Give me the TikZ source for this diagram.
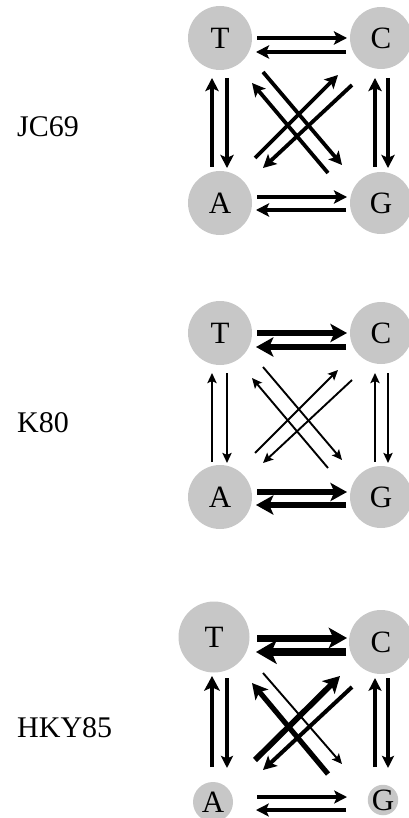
\documentclass[tikz,border=0pt]{standalone}
\usepackage{fontspec}
\setmainfont{Liberation Serif}
\usetikzlibrary{arrows.meta}
\begin{document}
\begin{tikzpicture}[x=1pt,y=-1pt,
  base/.style={circle, fill=black!22, inner sep=0pt, text=black, font=\fontsize{31}{36}\selectfont},
  arr/.style={line width=#1, -{Stealth[length={7pt 1.6}, width={5pt 2.2}, inset={1pt 0.5}]}},
  lbl/.style={anchor=base west, inner sep=0pt, font=\fontsize{30}{36}\selectfont}]
\useasboundingbox (0,0) rectangle (408,818);
% ---------- JC69 ----------
\node[lbl] (L1) at (17,137) {JC69};
\node[base, minimum size=64pt] (T1) at (220,38) {T};
\node[base, minimum size=62pt] (C1) at (381,38) {C};
\node[base, minimum size=64pt] (A1) at (220,203) {A};
\node[base, minimum size=62pt] (G1) at (381,203) {G};
\begin{scope}
\draw[arr=3.8] (257,38) -- (347,38);
\draw[arr=3.8] (346,52) -- (256,52);
\draw[arr=3.8] (257,197) -- (347,197);
\draw[arr=3.8] (346,210) -- (256,210);
\draw[arr=3.8] (212,167) -- (212,78);
\draw[arr=3.8] (227,78) -- (227,168);
\draw[arr=3.8] (375,167) -- (375,78);
\draw[arr=3.8] (388,78) -- (388,168);
\draw[arr=3.8] (255,158) -- (338,75);
\draw[arr=3.8] (352,85) -- (263,168);
\draw[arr=3.8] (328,173) -- (252,83);
\draw[arr=3.8] (263,72) -- (342,165);
\end{scope}
% ---------- K80 ----------
\node[lbl] (L2) at (17,432) {K80};
\node[base, minimum size=64pt] (T2) at (220,333) {T};
\node[base, minimum size=62pt] (C2) at (381,333) {C};
\node[base, minimum size=64pt] (A2) at (220,497) {A};
\node[base, minimum size=62pt] (G2) at (381,497) {G};
\begin{scope}[yshift=-295pt]
\draw[arr=6] (257,38) -- (347,38);
\draw[arr=6.5] (346,52) -- (256,52);
\draw[arr=6] (257,197) -- (347,197);
\draw[arr=6.5] (346,210) -- (256,210);
\draw[arr=1.9] (212,167) -- (212,78);
\draw[arr=1.9] (227,78) -- (227,168);
\draw[arr=1.9] (375,167) -- (375,78);
\draw[arr=1.9] (388,78) -- (388,168);
\draw[arr=1.9] (255,158) -- (338,75);
\draw[arr=1.9] (352,85) -- (263,168);
\draw[arr=1.9] (328,173) -- (252,83);
\draw[arr=1.9] (263,72) -- (342,165);
\end{scope}
% ---------- HKY85 ----------
\node[lbl] (L3) at (17,737) {HKY85};
\node[base, minimum size=71pt] (T3) at (214,637) {T};
\node[base, minimum size=64pt] (C3) at (381,642) {C};
\node[base, minimum size=40pt] (A3) at (213,802) {A};
\node[base, minimum size=27pt] (G3) at (383,800) {G};
\begin{scope}[yshift=-600pt]
\draw[arr=7] (257,38) -- (347,38);
\draw[arr=8.5] (346,52) -- (256,52);
\draw[arr=3.6] (257,197) -- (347,197);
\draw[arr=3.6] (346,210) -- (256,210);
\draw[arr=4.8] (212,167) -- (212,76);
\draw[arr=3.2] (227,78) -- (227,168);
\draw[arr=3.6] (375,167) -- (375,78);
\draw[arr=3.2] (388,78) -- (388,168);
\draw[arr=5.8] (255,160) -- (340,76);
\draw[arr=4] (352,87) -- (263,170);
\draw[arr=5.2] (328,174) -- (252,83);
\draw[arr=1.9] (263,73) -- (342,164);
\end{scope}
\end{tikzpicture}
\end{document}
